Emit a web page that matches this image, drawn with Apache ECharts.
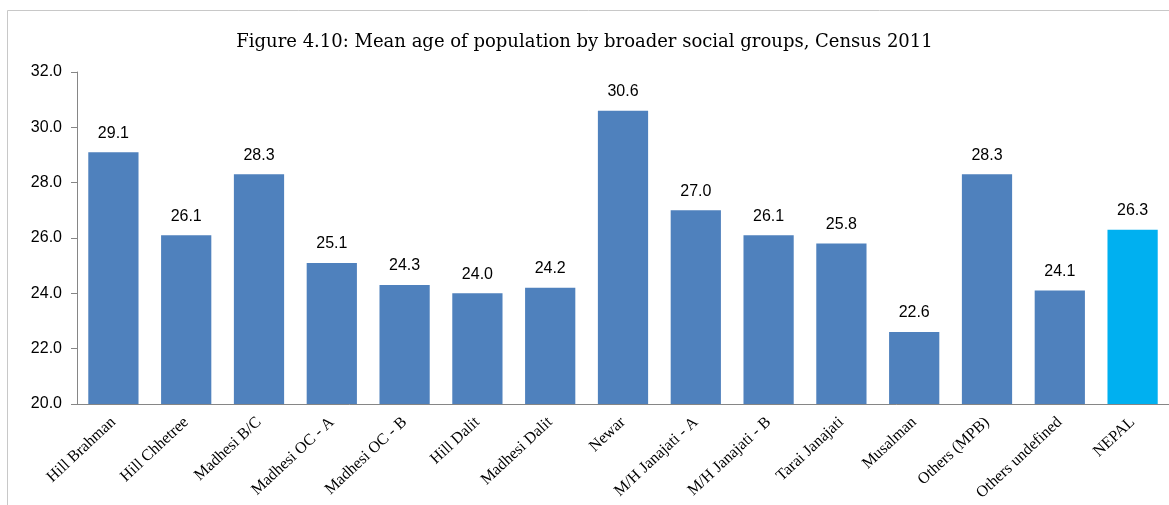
<!DOCTYPE html>
<html>
<head>
<meta charset="utf-8">
<script src="https://cdn.jsdelivr.net/npm/echarts@6/dist/echarts.min.js"></script>
<style>
  html, body { margin: 0; padding: 0; background: #fff; }
  #chart { width: 1169px; height: 505px; }
</style>
</head>
<body>
<div id="chart"></div>
<script>
const groups = [
  'Hill Brahman', 'Hill Chhetree', 'Madhesi B/C', 'Madhesi OC - A', 'Madhesi OC - B',
  'Hill Dalit', 'Madhesi Dalit', 'Newar', 'M/H Janajati - A', 'M/H Janajati - B',
  'Tarai Janajati', 'Musalman', 'Others (MPB)', 'Others undefined', 'NEPAL'
]
const meanAge = [29.1, 26.1, 28.3, 25.1, 24.3, 24.0, 24.2, 30.6, 27.0, 26.1, 25.8, 22.6, 28.3, 24.1, 26.3]
const highlight = 'NEPAL'

const chart = echarts.init(document.getElementById('chart'))

const option = {
  backgroundColor: '#fff',
  animation: false,
  title: {
    text: 'Figure 4.10: Mean age of population by broader social groups, Census 2011',
    left: 'center',
    top: 28,
    textStyle: {
      fontFamily: 'DejaVu Serif',
      fontWeight: 'normal',
      fontSize: 18,
      color: '#000'
    }
  },
  graphic: [{
    type: 'rect',
    shape: { x: 7.5, y: 10.5, width: 1200, height: 600 },
    style: { fill: 'none', stroke: '#c8c8c8', lineWidth: 1 },
    silent: true
  }],
  grid: {
    top: 72,
    left: 77,
    right: -5,
    bottom: 101
  },
  xAxis: {
    type: 'category',
    data: groups,
    axisLine: { lineStyle: { color: '#868686' } },
    axisTick: { alignWithLabel: false, length: 5, lineStyle: { color: '#868686' } },
    axisLabel: {
      rotate: 43,
      interval: 0,
      margin: 16,
      fontFamily: 'Liberation Serif',
      fontSize: 16,
      color: '#000'
    }
  },
  yAxis: {
    type: 'value',
    min: 20,
    max: 32,
    interval: 2,
    axisLine: { show: true, lineStyle: { color: '#868686' } },
    axisTick: { show: true, length: 6, lineStyle: { color: '#868686' } },
    axisLabel: {
      margin: 15,
      fontFamily: 'Liberation Sans',
      fontSize: 16,
      color: '#000',
      formatter: (v) => v.toFixed(1)
    },
    splitLine: { show: false }
  },
  series: [{
    type: 'bar',
    barCategoryGap: '31%',
    data: meanAge.map((v, i) => ({
      value: v,
      itemStyle: { color: groups[i] === highlight ? '#00B0F0' : '#4F81BD' }
    })),
    label: {
      show: true,
      position: 'top',
      distance: 11,
      fontFamily: 'Liberation Sans',
      fontSize: 16,
      color: '#000',
      formatter: (p) => p.value.toFixed(1)
    }
  }]
}

chart.setOption(option)
</script>
</body>
</html>
